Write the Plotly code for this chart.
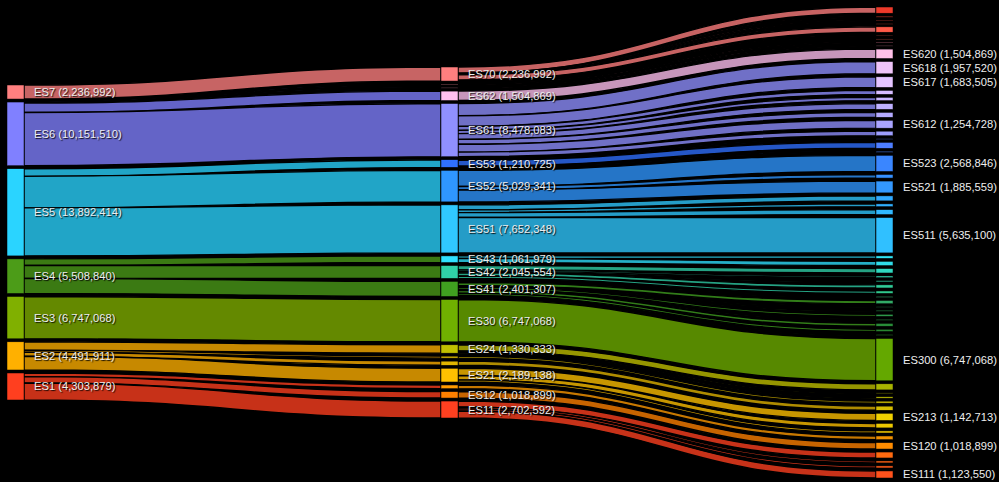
import plotly.graph_objects as go

# ---------------- data ----------------
nuts1 = ["ES7", "ES6", "ES5", "ES4", "ES3", "ES2", "ES1"]
pop1 = [2236992, 10151510, 13892414, 5508840, 6747068, 4491911, 4303879]

nuts2 = ["ES70", "ES64", "ES63", "ES62", "ES61", "ES53", "ES52", "ES51", "ES43",
         "ES42", "ES41", "ES30", "ES24", "ES23", "ES22", "ES21", "ES13", "ES12", "ES11"]
pop2 = [2236992, 84356, 84202, 1504869, 8478083, 1210725, 5029341, 7652348, 1061979,
        2045554, 2401307, 6747068, 1330333, 315953, 656487, 2189138, 582388, 1018899, 2702592]

nuts3 = ["ES709", "ES708", "ES707", "ES706", "ES705", "ES704", "ES703",
         "ES640", "ES630", "ES620",
         "ES618", "ES617", "ES616", "ES615", "ES614", "ES613", "ES612", "ES611",
         "ES533", "ES532", "ES531",
         "ES523", "ES522", "ES521",
         "ES514", "ES513", "ES512", "ES511",
         "ES432", "ES431",
         "ES425", "ES424", "ES423", "ES422", "ES421",
         "ES419", "ES418", "ES417", "ES416", "ES415", "ES414", "ES413", "ES412", "ES411",
         "ES300",
         "ES243", "ES242", "ES241",
         "ES230", "ES220",
         "ES213", "ES212", "ES211",
         "ES130", "ES120",
         "ES114", "ES113", "ES112", "ES111"]
pop3 = [989644, 155812, 83458, 21678, 855521, 119732, 11147,
        84356, 84202, 1504869,
        1957520, 1683505, 629488, 524278, 919168, 781451, 1254728, 727945,
        97411, 950100, 163214,
        2568846, 574936, 1885559,
        796943, 438517, 781788, 5635100,
        389842, 672137,
        703389, 261995, 196139, 495761, 388270,
        170430, 520649, 88884, 153478, 331473, 160321, 460001, 357650, 158421,
        6747068,
        973470, 134176, 222687,
        315953, 656487,
        1142713, 712799, 333626,
        582388, 1018899,
        944446, 306650, 327946, 1123550]

# ---------------- style ----------------
col1 = {"ES7": "#ff8080", "ES6": "#8080ff", "ES5": "#2ad4ff", "ES4": "#4c9c18",
        "ES3": "#80b000", "ES2": "#ffb000", "ES1": "#ff3f1f"}
col2 = {"ES70": "#ff7f7f", "ES64": "#ff90a0", "ES63": "#ffa0c0", "ES62": "#ffc0f0",
        "ES61": "#9090ff", "ES53": "#3070ff", "ES52": "#2f96ff", "ES51": "#30c8ff",
        "ES43": "#30e0ff", "ES42": "#30d0a8", "ES41": "#40a020", "ES30": "#70b000",
        "ES24": "#c0c000", "ES23": "#d0b000", "ES22": "#e0b400", "ES21": "#ffc000",
        "ES13": "#ff9a00", "ES12": "#ff8000", "ES11": "#ff4020"}
col3_list = ["#ee3a2a", "#f24232", "#f54a3a", "#f85242", "#ff5a48", "#ff6250", "#ff6a58",
             "#ff8aa8", "#ff9ab8", "#ffc0e8",
             "#efc4f8", "#e4c4ff", "#d6bcff", "#cab6ff", "#beb0ff", "#b4aaff", "#aaa4ff", "#9e9eff",
             "#5a7cff", "#4e7eff", "#4882ff",
             "#3a86ff", "#3690ff", "#3398ff",
             "#30a8ff", "#30b0ff", "#30b8ff", "#30c0ff",
             "#30e4f4", "#30dce8",
             "#30d8c0", "#30d4b0", "#30d0a4", "#30cc98", "#30c88c",
             "#34b070", "#32aa66", "#30a45c", "#2e9e52", "#2c9848", "#2a9240", "#288c38", "#288630", "#288028",
             "#64a800",
             "#a8b400", "#b0b400", "#b8b800",
             "#c8b800", "#d4bc00",
             "#f0d000", "#ecc800", "#e8c000",
             "#f09000", "#ff8c00",
             "#ff6a10", "#ff6214", "#ff5a18", "#ff521c"]
col3 = dict(zip(nuts3, col3_list))

W, HFIG = 999, 482
MT, MB = 7, 4
H = HFIG - MT - MB
PAD = 3
THICK = 17
XC = [15.5 / W, 449.5 / W, 884.5 / W]

columns = [(nuts1, pop1), (nuts2, pop2), (nuts3, pop3)]
total = sum(pop1)
maxn = max(len(c[0]) for c in columns)
kyf = (1 - (maxn - 1) * PAD / H) / total

labels, xs, ys, colors, vals = [], [], [], [], []
index = {}
for ci, (names, vals_c) in enumerate(columns):
    colh = sum(vals_c) * kyf + (len(names) - 1) * PAD / H
    y0 = (1 - colh) / 2
    for n, v in zip(names, vals_c):
        h = v * kyf
        index[n] = len(labels)
        labels.append(n)
        xs.append(XC[ci])
        ys.append(y0 + h / 2)
        vals.append(v)
        colors.append({0: col1, 1: col2, 2: col3}[ci][n])
        y0 += h + PAD / H


def rgba(hx, a):
    hx = hx.lstrip("#")
    r, g, b = int(hx[0:2], 16), int(hx[2:4], 16), int(hx[4:6], 16)
    return f"rgba({r},{g},{b},{a})"


src, tgt, lval, lcol = [], [], [], []
for names, vals_c in [(nuts2, pop2), (nuts3, pop3)]:
    for n, v in zip(names, vals_c):
        p = n[:-1]
        src.append(index[p])
        tgt.append(index[n])
        lval.append(v)
        lcol.append(rgba(colors[index[p]], 0.78))

fig = go.Figure(go.Sankey(
    arrangement="fixed",
    node=dict(label=[""] * len(labels), x=xs, y=ys, pad=PAD, thickness=THICK,
              color=colors, line=dict(color="black", width=0.5),
              customdata=labels, hovertemplate="%{customdata}: %{value:,}<extra></extra>"),
    link=dict(source=src, target=tgt, value=lval, color=lcol,
              line=dict(color="black", width=1.4), hoverinfo="none"),
))

annotations = []
for i, n in enumerate(labels):
    if vals[i] >= 1_000_000:
        annotations.append(dict(
            x=(xs[i] * W + THICK / 2 + 7.5) / W, y=1 - ys[i],
            xref="paper", yref="paper", xanchor="left", yanchor="middle",
            text=f"{n} ({vals[i]:,})", showarrow=False,
            font=dict(family="Liberation Sans, Arial, sans-serif", size=11.2,
                      color="#eeeeee", shadow="1px 1px 1px rgba(0,0,0,0.9)")))

fig.update_layout(width=W, height=HFIG, margin=dict(l=0, r=0, t=MT, b=MB),
                  paper_bgcolor="black", plot_bgcolor="black",
                  annotations=annotations, showlegend=False)

fig.write_html("out.html", config={"displayModeBar": False},
               post_script="document.body.style.margin='0';"
                           "document.body.style.background='black';")
